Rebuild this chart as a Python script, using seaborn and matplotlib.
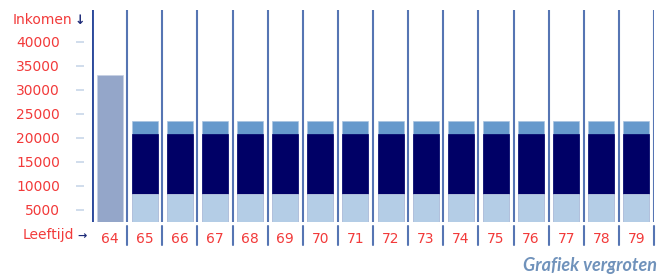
import numpy as np
import pandas as pd
import matplotlib
matplotlib.use("Agg")
import matplotlib.pyplot as plt
import matplotlib.transforms as mtransforms
import seaborn as sns

# data
ages = list(range(64, 80))
salary = [33100] + [0] * 15          # last year of work
aow = [0] + [8300] * 15              # bottom layer (light)
pension = [0] + [12600] * 15         # middle layer (navy)
extra = [0] + [2600] * 15            # top layer (mid blue)
yticks = [5000, 10000, 15000, 20000, 25000, 30000, 35000, 40000]

df = pd.DataFrame({"age": [str(a) for a in ages], "salary": salary,
                   "aow": aow, "pension": pension, "extra": extra})
df["top_aow"] = df["aow"]
df["top_pension"] = df["top_aow"] + df["pension"]
df["top_extra"] = df["top_pension"] + df["extra"]

red = "#f23a3a"
navy_txt = "#1c2a78"

sns.set_style("white")
plt.rcParams["font.family"] = ["DejaVu Sans"]

fig = plt.figure(figsize=(6.59, 2.77), dpi=100)
ax = fig.add_axes([92 / 659, 55 / 277, 562 / 659, 212 / 277])

order = df["age"].tolist()
w = 0.74
sns.barplot(data=df, x="age", y="salary", order=order, color="#94a6c9",
            width=w, saturation=1, ax=ax, edgecolor="#c5d0e4", linewidth=0.5)
sns.barplot(data=df, x="age", y="top_extra", order=order, color="#6699cc",
            width=w, saturation=1, ax=ax, edgecolor="#a9c3e0", linewidth=0.5)
sns.barplot(data=df, x="age", y="top_pension", order=order, color="#000066",
            width=w, saturation=1, ax=ax, edgecolor="#000066", linewidth=0.5)
sns.barplot(data=df, x="age", y="top_aow", order=order, color="#b4cde6",
            width=w, saturation=1, ax=ax, edgecolor="#d3e1f0", linewidth=0.5)

ax.set_xlim(-0.5, len(ages) - 0.5)
ax.set_ylim(2500, 46600)

# column dividers
ax.vlines(np.arange(len(ages)) + 0.5, 2500, 46600, color="#5675b3", lw=1.5)
ax.axvline(-0.5, color="#2c4a9c", lw=2.8)

for s in ax.spines.values():
    s.set_visible(False)
ax.spines["left"].set_position(("outward", 6))

ax.set_yticks(yticks)
ax.set_yticklabels([str(v) for v in yticks], color=red, fontsize=10)
ax.tick_params(axis="y", length=6, width=1.3, color="#cddaeb", pad=11, left=True)
ax.tick_params(axis="x", length=0, pad=7, labelsize=10, labelcolor=red)
ax.set_xlabel("")
ax.set_ylabel("")

# small dividers under the age labels
trans = mtransforms.blended_transform_factory(ax.transData, ax.transAxes)
for xv in np.arange(len(ages)) + 0.5:
    ax.plot([xv, xv], [-0.02, -0.11], transform=trans, color="#5675b3",
            lw=1.5, clip_on=False)

fig.text(13 / 659, 1 - 20 / 277, "Inkomen", color=red, fontsize=10,
         va="center", ha="left")
fig.text(75 / 659, 1 - 21 / 277, "↓", color=navy_txt, fontsize=9,
         va="center", ha="left", fontweight="bold")
fig.text(23 / 659, 1 - 235 / 277, "Leeftijd", color=red, fontsize=10,
         va="center", ha="left")
fig.text(77 / 659, 1 - 236 / 277, "→", color=navy_txt, fontsize=8,
         va="center", ha="left", fontweight="bold")
fig.text(657 / 659, 1 - 265 / 277, "Grafiek vergroten", color="#7092bb",
         fontsize=13, style="italic", fontweight="bold", family="Lato",
         va="center", ha="right")

fig.savefig("out.png", dpi=100, facecolor="white")
